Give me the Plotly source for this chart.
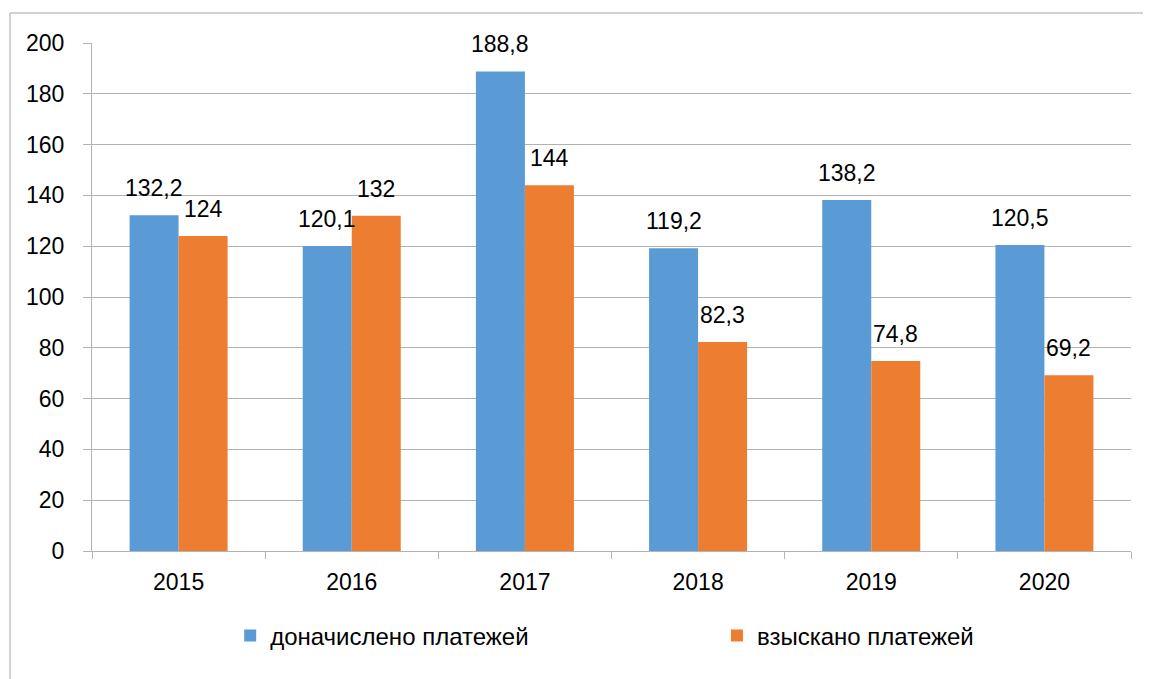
import plotly.graph_objects as go

years = ["2015", "2016", "2017", "2018", "2019", "2020"]
accrued = [132.2, 120.1, 188.8, 119.2, 138.2, 120.5]
collected = [124, 132, 144, 82.3, 74.8, 69.2]
series_names = ["доначислено платежей", "взыскано платежей"]
y_ticks = [0, 20, 40, 60, 80, 100, 120, 140, 160, 180, 200]

FONT = "Liberation Sans"
BLUE = "#5B9BD5"
ORANGE = "#ED7D31"
GRID = "#b3b3b3"

def fmt(v):
    return f"{v:g}".replace(".", ",")

fig = go.Figure()
fig.add_trace(go.Bar(x=years, y=accrued, name=series_names[0], marker_color=BLUE,
                     marker_line_width=0, legend="legend"))
fig.add_trace(go.Bar(x=years, y=collected, name=series_names[1], marker_color=ORANGE,
                     marker_line_width=0, legend="legend2"))

annotations = []
for shift, vals in ((-24.5, accrued), (24.5, collected)):
    for i, v in enumerate(vals):
        annotations.append(dict(x=i, y=v, xref="x", yref="y", text=fmt(v),
                                showarrow=False, xshift=shift, yanchor="bottom",
                                yshift=12, font=dict(family=FONT, size=23, color="#000")))

shapes = [
    dict(type="line", xref="paper", yref="paper", x0=-0.0789, x1=1.05, y0=1.059, y1=1.059,
         line=dict(color="#a6a6a6", width=1)),
    dict(type="line", xref="paper", yref="paper", x0=-0.0789, x1=-0.0789, y0=1.059, y1=-0.3,
         line=dict(color="#a6a6a6", width=1)),
]

legend_common = dict(orientation="h", y=-0.167, yanchor="middle", xanchor="left",
                     bgcolor="rgba(0,0,0,0)",
                     font=dict(family=FONT, size=24, color="#000"))

fig.update_layout(
    width=1151, height=679,
    margin=dict(l=84, r=28, t=35, b=136),
    paper_bgcolor="white", plot_bgcolor="white",
    barmode="group", bargap=0.434, bargroupgap=0,
    font=dict(family=FONT, size=23, color="#000"),
    showlegend=True,
    legend=dict(x=0.133, **legend_common),
    legend2=dict(x=0.6015, **legend_common),
    annotations=annotations,
    shapes=shapes,
    xaxis=dict(type="category", range=[-0.5, 5.5], showgrid=False, showline=True,
               linecolor=GRID, linewidth=1,
               ticks="outside", tickson="boundaries", ticklen=7, tickcolor=GRID,
               tickfont=dict(family=FONT, size=23, color="#000"), ticklabelstandoff=10),
    yaxis=dict(range=[0, 200], tickvals=y_ticks, showgrid=True, gridcolor=GRID, gridwidth=1,
               showline=True, linecolor=GRID, linewidth=1, ticks="outside", ticklen=8,
               tickcolor=GRID, zeroline=False,
               tickfont=dict(family=FONT, size=23, color="#000"), ticklabelstandoff=14),
)

fig.write_html("out.html")
